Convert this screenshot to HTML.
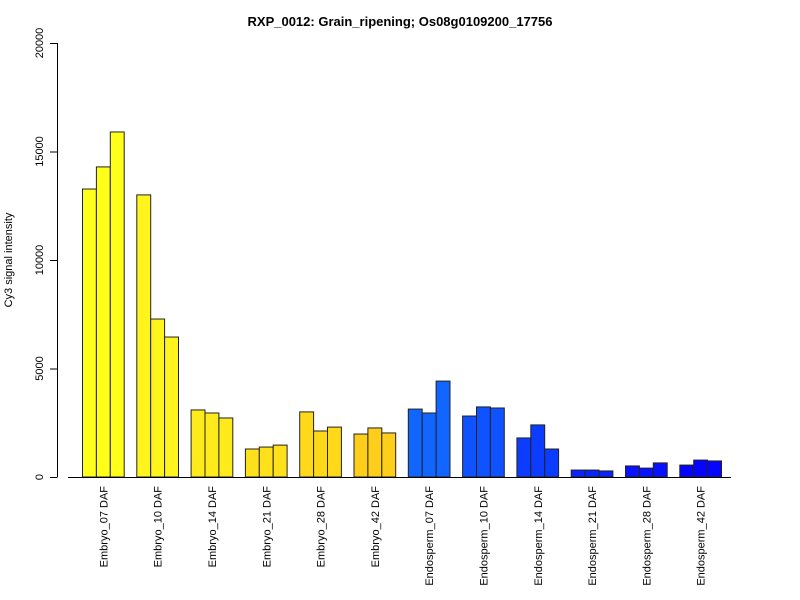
<!DOCTYPE html>
<html><head><meta charset="utf-8"><style>body{margin:0;background:#fff}svg{display:block;font-family:"Liberation Sans",Arial,sans-serif}</style></head>
<body>
<svg id="chart" width="800" height="600">
<text x="400" y="26" text-anchor="middle" font-size="13" font-weight="bold">RXP_0012: Grain_ripening; Os08g0109200_17756</text>
<text transform="translate(12,260) rotate(-90)" text-anchor="middle" font-size="11">Cy3 signal intensity</text>
<g id="yaxis"></g>
<g id="bars"></g>
<line x1="68" y1="477.5" x2="731" y2="477.5" stroke="#000"/>
<g id="xlabels"></g>
</svg>
<script>
const categories = ["Embryo_07 DAF","Embryo_10 DAF","Embryo_14 DAF","Embryo_21 DAF","Embryo_28 DAF","Embryo_42 DAF","Endosperm_07 DAF","Endosperm_10 DAF","Endosperm_14 DAF","Endosperm_21 DAF","Endosperm_28 DAF","Endosperm_42 DAF"];
const rep1 = [13270,13000,3090,1290,3000,1980,3130,2810,1800,320,510,550];
const rep2 = [14290,7280,2950,1380,2120,2260,2950,3230,2400,320,410,780];
const rep3 = [15900,6450,2720,1470,2300,2030,4420,3180,1290,280,650,740];
const yTicks = [0,5000,10000,15000,20000];
const colors = ["#FFFF1A","#FFF41B","#FFEB1B","#FFE11B","#FFD81A","#FFCE1A","#1166FF","#0F52FF","#0B3CFF","#0A24FF","#0812FF","#0505FF"];
const NS="http://www.w3.org/2000/svg";
const y = v => 477 - v/20000*434;
const x0 = 82.5, groupW = 54.3, barW = 13.9;
const ya=document.getElementById('yaxis');
function mk(t,a,p){const e=document.createElementNS(NS,t);for(const k in a)e.setAttribute(k,a[k]);p.appendChild(e);return e;}
const al=mk('line',{x1:57.5,y1:y(0),x2:57.5,y2:y(20000),stroke:'#000'},ya);


yTicks.forEach(t=>{
  const l=mk('line',{x1:50,x2:57.5,y1:y(t)+0.5,y2:y(t)+0.5,stroke:'#000'},ya);
  
  
  const tx=mk('text',{transform:`translate(43,${y(t)}) rotate(-90)`,'text-anchor':'middle','font-size':'11'},ya);
  
  
  tx.textContent=t;
});
const bg=document.getElementById('bars'), xl=document.getElementById('xlabels');
categories.forEach((c,i)=>{
  [rep1[i],rep2[i],rep3[i]].forEach((v,j)=>{
    const bx=x0+i*groupW+j*barW;
    const r=mk('rect',{x:bx,y:y(v),width:barW,height:y(0)-y(v),fill:colors[i],stroke:'#222','stroke-width':1},bg);
    
    
  });
  const cx=x0+i*groupW+1.5*barW+4;
  const t=mk('text',{transform:`translate(${cx},486) rotate(-90)`,'text-anchor':'end','font-size':'11'},xl);
  
  
  t.textContent=c;
});
</script>
</body></html>
